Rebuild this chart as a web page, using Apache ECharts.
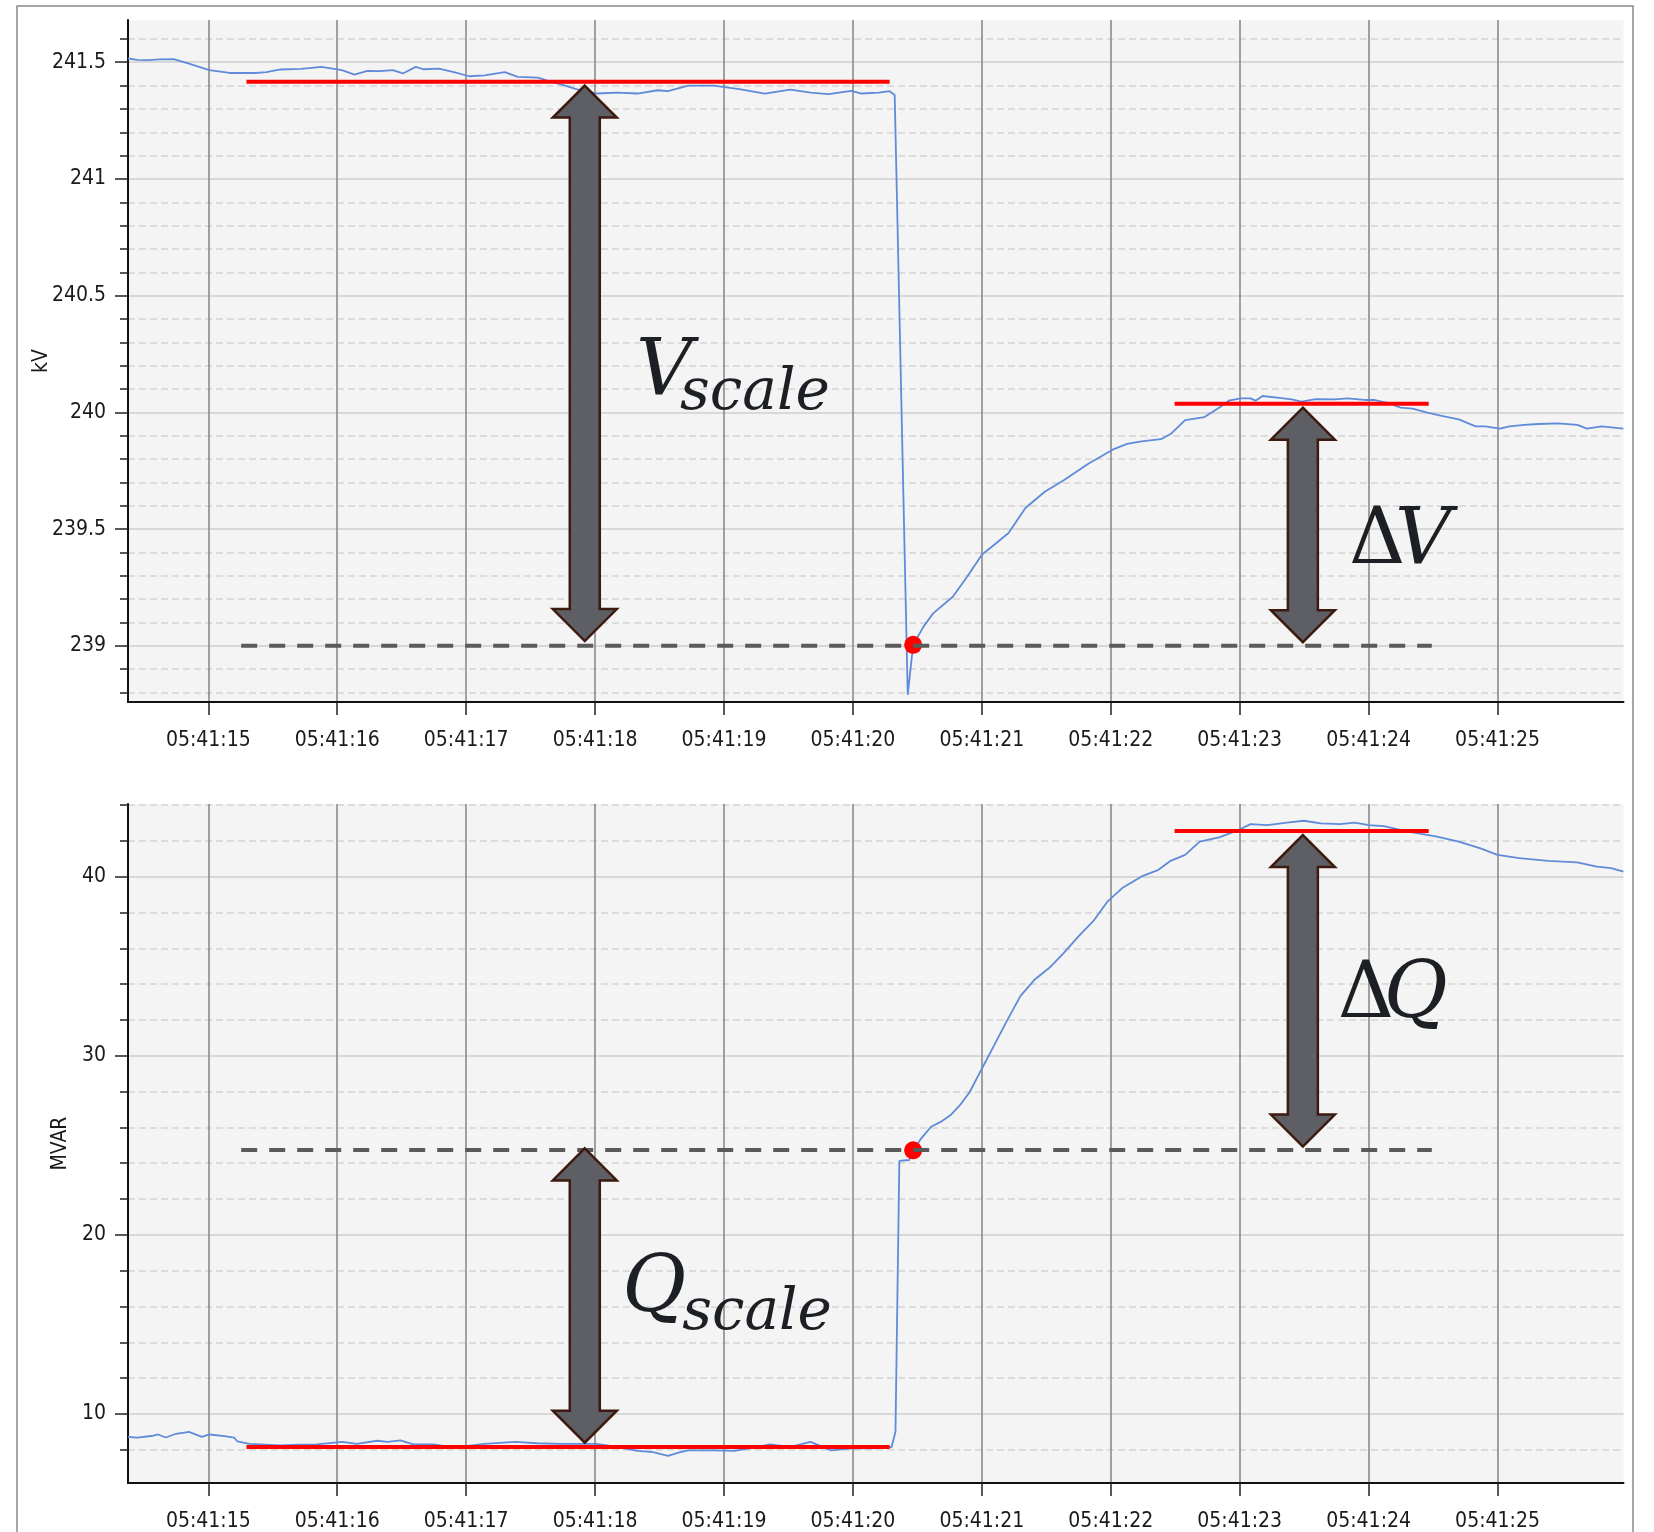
<!DOCTYPE html>
<html><head><meta charset="utf-8">
<script src="https://cdn.jsdelivr.net/npm/echarts@6/dist/echarts.min.js"></script>
<style>html,body{margin:0;padding:0;background:#fff}#c{width:1654px;height:1532px}</style>
</head><body><div id="c"></div>
<script>
// ---- tick values / labels ----
const timeTicks = [15, 16, 17, 18, 19, 20, 21, 22, 23, 24, 25];
const timeTickLabels = ['05:41:15','05:41:16','05:41:17','05:41:18','05:41:19','05:41:20','05:41:21','05:41:22','05:41:23','05:41:24','05:41:25'];
const kvMajorTicks = [239, 239.5, 240, 240.5, 241, 241.5];
const kvMinorTicks = [238.8, 238.9, 239.1, 239.2, 239.3, 239.4, 239.6, 239.7, 239.8, 239.9, 240.1, 240.2, 240.3, 240.4, 240.6, 240.7, 240.8, 240.9, 241.1, 241.2, 241.3, 241.4, 241.6];
const mvarMajorTicks = [10, 20, 30, 40];
const mvarMinorTicks = [8, 12, 14, 16, 18, 22, 24, 26, 28, 32, 34, 36, 38, 42, 44];

// ---- series data: [seconds after 05:41:00, value] ----
const voltageKV = [
[14.376,241.516],[14.45,241.51],[14.534,241.509],[14.62,241.512],[14.731,241.513],[14.85,241.494],
[15.008,241.466],[15.166,241.454],[15.364,241.454],[15.45,241.458],[15.561,241.469],[15.72,241.472],
[15.877,241.48],[16.036,241.466],[16.134,241.447],[16.233,241.463],[16.33,241.462],[16.431,241.466],
[16.51,241.452],[16.609,241.48],[16.668,241.47],[16.787,241.473],[16.905,241.458],[17.024,241.44],
[17.142,241.444],[17.30,241.458],[17.40,241.437],[17.557,241.434],[17.617,241.423],[17.735,241.405],
[17.854,241.385],[18.012,241.366],[18.17,241.37],[18.328,241.366],[18.486,241.38],[18.565,241.376],
[18.723,241.40],[18.92,241.40],[19.119,241.385],[19.316,241.366],[19.514,241.383],[19.672,241.37],
[19.81,241.363],[19.988,241.377],[20.067,241.366],[20.20,241.37],[20.285,241.376],[20.324,241.36],
[20.425,238.79],[20.467,239.004],[20.549,239.083],[20.624,239.14],[20.775,239.21],[20.887,239.297],
[21.0,239.39],[21.113,239.44],[21.207,239.483],[21.338,239.59],[21.488,239.66],[21.638,239.71],
[21.826,239.78],[22.014,239.84],[22.127,239.865],[22.239,239.876],[22.389,239.885],[22.464,239.907],
[22.577,239.967],[22.727,239.98],[22.84,240.02],[22.915,240.05],[23.009,240.06],[23.084,240.06],
[23.122,240.05],[23.178,240.07],[23.291,240.063],[23.403,240.056],[23.478,240.046],[23.591,240.057],
[23.741,240.056],[23.835,240.06],[23.967,240.053],[24.042,240.053],[24.154,240.04],[24.248,240.02],
[24.342,240.016],[24.455,239.999],[24.567,239.985],[24.699,239.97],[24.83,239.94],[24.905,239.94],
[25.018,239.93],[25.093,239.94],[25.206,239.946],[25.318,239.95],[25.469,239.953],[25.619,239.946],
[25.694,239.93],[25.807,239.94],[25.976,239.93]
];
const reactiveMVAR = [
[14.376,8.72],[14.45,8.68],[14.573,8.78],[14.61,8.85],[14.67,8.68],[14.75,8.89],[14.85,9.0],
[14.95,8.72],[15.008,8.85],[15.126,8.76],[15.2,8.68],[15.225,8.46],[15.32,8.33],[15.40,8.30],
[15.56,8.24],[15.70,8.28],[15.84,8.30],[16.04,8.44],[16.15,8.33],[16.31,8.5],[16.39,8.44],
[16.49,8.52],[16.59,8.30],[16.75,8.3],[16.905,8.12],[17.14,8.33],[17.38,8.44],[17.55,8.36],
[17.735,8.33],[18.01,8.33],[18.17,8.15],[18.33,7.93],[18.45,7.87],[18.565,7.65],[18.64,7.82],
[18.72,7.96],[18.92,7.96],[19.08,7.93],[19.2,8.07],[19.356,8.3],[19.51,8.15],[19.67,8.44],
[19.83,7.96],[19.99,8.07],[20.15,8.07],[20.30,8.15],[20.33,9.0],[20.36,24.13],[20.437,24.18],
[20.467,24.7],[20.53,25.39],[20.606,26.04],[20.68,26.31],[20.756,26.68],[20.83,27.24],[20.906,27.98],
[21.0,29.28],[21.094,30.57],[21.188,31.87],[21.30,33.35],[21.413,34.28],[21.526,34.93],[21.638,35.76],
[21.751,36.68],[21.864,37.52],[21.976,38.63],[22.089,39.37],[22.239,40.02],[22.37,40.39],[22.464,40.89],
[22.577,41.22],[22.69,41.96],[22.84,42.2],[22.99,42.61],[23.084,42.94],[23.216,42.89],[23.366,43.02],
[23.497,43.13],[23.629,42.98],[23.779,42.94],[23.891,43.02],[24.004,42.89],[24.117,42.83],[24.23,42.65],
[24.342,42.48],[24.53,42.24],[24.699,41.96],[24.868,41.59],[25.0,41.22],[25.168,41.04],[25.393,40.89],
[25.619,40.81],[25.769,40.57],[25.882,40.48],[25.976,40.29]
];

// ---- annotations (data coordinates) ----
const kvRedLines = [[15.296, 20.285, 241.416], [22.495, 24.466, 240.037]];
const kvDashedLine = [15.255, 24.49, 239.0];
const kvDot = [20.467, 239.004];
const kvArrows = [[17.92, 241.40, 239.02], [23.49, 240.02, 239.015]];
const mvarRedLines = [[15.296, 20.285, 8.15], [22.495, 24.466, 42.56]];
const mvarDashedLine = [15.255, 24.49, 24.74];
const mvarDot = [20.467, 24.72];
const mvarArrows = [[17.92, 24.83, 8.39], [23.49, 42.33, 24.93]];
// label anchors: [t, v] at left/baseline of the label
const kvLabels = [{t: 18.318, v: 240.057, pre: '', main: 'V', sub: 'scale'}, {t: 23.848, v: 239.333, pre: 'Δ', main: 'V', sub: ''}];
const mvarLabels = [{t: 18.21, v: 15.44, pre: '', main: 'Q', sub: 'scale'}, {t: 23.76, v: 31.89, pre: 'Δ', main: 'Q', sub: ''}];

const X_MIN = 14.377, X_MAX = 25.977;
const KV_MIN = 238.759, KV_MAX = 241.681;
const MV_MIN = 6.14, MV_MAX = 44.065;

const LBL_FONT = '"Liberation Sans Narrow", "DejaVu Sans Condensed", sans-serif';
const LBL_SIZE = 21;
const TXT = '#1a1a1a';

function xAxisCfg(i) {
  return {
    type: 'value', gridIndex: i, min: X_MIN, max: X_MAX,
    axisLine: {show: true, onZero: false, lineStyle: {color: '#111', width: 2}},
    axisTick: {show: true, customValues: timeTicks, length: 13, lineStyle: {color: '#222', width: 1.5}},
    axisLabel: {customValues: timeTicks, margin: 28, fontSize: LBL_SIZE, fontFamily: LBL_FONT, color: TXT,
      formatter: v => timeTickLabels[timeTicks.indexOf(Math.round(v))]},
    splitLine: {show: true, lineStyle: {color: '#858585', width: 1.5}}
  };
}
function yMajor(i, min, max, ticks, name, gap) {
  return {
    type: 'value', gridIndex: i, position: 'left', min, max,
    axisLine: {show: true, onZero: false, lineStyle: {color: '#111', width: 2}},
    axisTick: {show: true, customValues: ticks, length: 13, lineStyle: {color: '#222', width: 1.5}},
    axisLabel: {customValues: ticks, margin: 22, fontSize: LBL_SIZE, fontFamily: LBL_FONT, color: TXT},
    splitLine: {show: true, lineStyle: {color: '#cfcfcf', width: 1.5}},
    name, nameLocation: 'middle', nameGap: gap, nameMoveOverlap: false,
    nameTextStyle: {fontSize: LBL_SIZE, fontFamily: LBL_FONT, color: TXT}
  };
}
function yMinor(i, min, max, ticks) {
  return {
    type: 'value', gridIndex: i, position: 'left', min, max,
    axisLine: {show: false},
    axisTick: {show: true, customValues: ticks, length: 8, lineStyle: {color: '#222', width: 1.5}},
    axisLabel: {show: false},
    splitLine: {show: true, lineStyle: {color: '#d3d3d3', width: 1.5, type: [7, 4]}}
  };
}

function segSeries(seg, xi, yi, color, type, z) {
  return {type: 'line', xAxisIndex: xi, yAxisIndex: yi, data: [[seg[0], seg[2]], [seg[1], seg[2]]],
    symbol: 'none', silent: true, z, lineStyle: {color, width: 4, type}};
}

function arrowSeries(data, xi, yi) {
  return {
    type: 'custom', xAxisIndex: xi, yAxisIndex: yi, data, z: 8, silent: true, clip: false,
    renderItem: (params, api) => {
      const a = api.coord([api.value(0), api.value(1)]);
      const b = api.coord([api.value(0), api.value(2)]);
      const cx = a[0], y1 = a[1], y2 = b[1];
      const hh = 32, hw = 32, sw = 15;
      return {type: 'polygon', shape: {points: [
        [cx, y1], [cx + hw, y1 + hh], [cx + sw, y1 + hh], [cx + sw, y2 - hh], [cx + hw, y2 - hh],
        [cx, y2], [cx - hw, y2 - hh], [cx - sw, y2 - hh], [cx - sw, y1 + hh], [cx - hw, y1 + hh]]},
        style: {fill: '#5e5f64', stroke: '#3d1a0f', lineWidth: 2.5, lineJoin: 'miter'}};
    }
  };
}

const SUB_OFFSET = {V: [44, 14], Q: [60, 17]};
function labelSeries(labels, xi, yi) {
  return {
    type: 'custom', xAxisIndex: xi, yAxisIndex: yi, z: 9, silent: true, clip: false,
    data: labels.map(l => [l.t, l.v]),
    renderItem: (params, api) => {
      const l = labels[params.dataIndex];
      const p = api.coord([api.value(0), api.value(1)]);
      const fs = 78, sfs = 58;
      const kids = [];
      let x = p[0];
      const base = p[1];
      if (l.pre) {
        kids.push({type: 'text', x, y: base - 0.33 * fs, style: {text: l.pre, font: 'normal ' + fs + 'px "DejaVu Serif"', fill: '#1c2024', align: 'left', verticalAlign: 'middle'}});
        x += 46;
      }
      kids.push({type: 'text', x, y: base - 0.33 * fs, style: {text: l.main, font: 'italic ' + fs + 'px "DejaVu Serif"', fill: '#1c2024', align: 'left', verticalAlign: 'middle'}});
      if (l.sub) {
        const o = SUB_OFFSET[l.main];
        kids.push({type: 'text', x: x + o[0], y: base + o[1] - 0.33 * sfs, style: {text: l.sub, font: 'italic ' + sfs + 'px "DejaVu Serif"', fill: '#1c2024', align: 'left', verticalAlign: 'middle'}});
      }
      return {type: 'group', children: kids};
    }
  };
}

const chart = echarts.init(document.getElementById('c'), null, {renderer: 'canvas'});
chart.setOption({
  animation: false,
  backgroundColor: '#ffffff',
  graphic: [{type: 'rect', z: -10, shape: {x: 17, y: 6, width: 1616, height: 1600},
    style: {fill: 'none', stroke: '#8a8a8a', lineWidth: 1.5}}],
  grid: [
    {left: 128, top: 20, width: 1495.5, height: 682, show: true, backgroundColor: '#f4f4f4', borderWidth: 0},
    {left: 128, top: 804, width: 1495.5, height: 681, show: true, backgroundColor: '#f4f4f4', borderWidth: 0}
  ],
  xAxis: [xAxisCfg(0), xAxisCfg(1)],
  yAxis: [
    yMajor(0, KV_MIN, KV_MAX, kvMajorTicks, 'kV', 76),
    yMinor(0, KV_MIN, KV_MAX, kvMinorTicks),
    yMajor(1, MV_MIN, MV_MAX, mvarMajorTicks, 'MVAR', 57),
    yMinor(1, MV_MIN, MV_MAX, mvarMinorTicks)
  ],
  series: [
    {type: 'line', xAxisIndex: 0, yAxisIndex: 0, data: voltageKV, symbol: 'none', z: 3,
      lineStyle: {color: '#5f8bd8', width: 1.8}},
    {type: 'line', xAxisIndex: 1, yAxisIndex: 2, data: reactiveMVAR, symbol: 'none', z: 3,
      lineStyle: {color: '#5f8bd8', width: 1.8}},
    ...kvRedLines.map(s => segSeries(s, 0, 0, '#ff0000', 'solid', 5)),
    ...mvarRedLines.map(s => segSeries(s, 1, 2, '#ff0000', 'solid', 5)),
    {type: 'scatter', xAxisIndex: 0, yAxisIndex: 0, data: [kvDot], symbolSize: 18, z: 6, silent: true, itemStyle: {color: '#ff0000', opacity: 1}},
    {type: 'scatter', xAxisIndex: 1, yAxisIndex: 2, data: [mvarDot], symbolSize: 18, z: 6, silent: true, itemStyle: {color: '#ff0000', opacity: 1}},
    segSeries(kvDashedLine, 0, 0, '#5a5a5a', [16, 12], 7),
    segSeries(mvarDashedLine, 1, 2, '#5a5a5a', [16, 12], 7),
    arrowSeries(kvArrows, 0, 0),
    arrowSeries(mvarArrows, 1, 2),
    labelSeries(kvLabels, 0, 0),
    labelSeries(mvarLabels, 1, 2)
  ]
});
</script></body></html>
